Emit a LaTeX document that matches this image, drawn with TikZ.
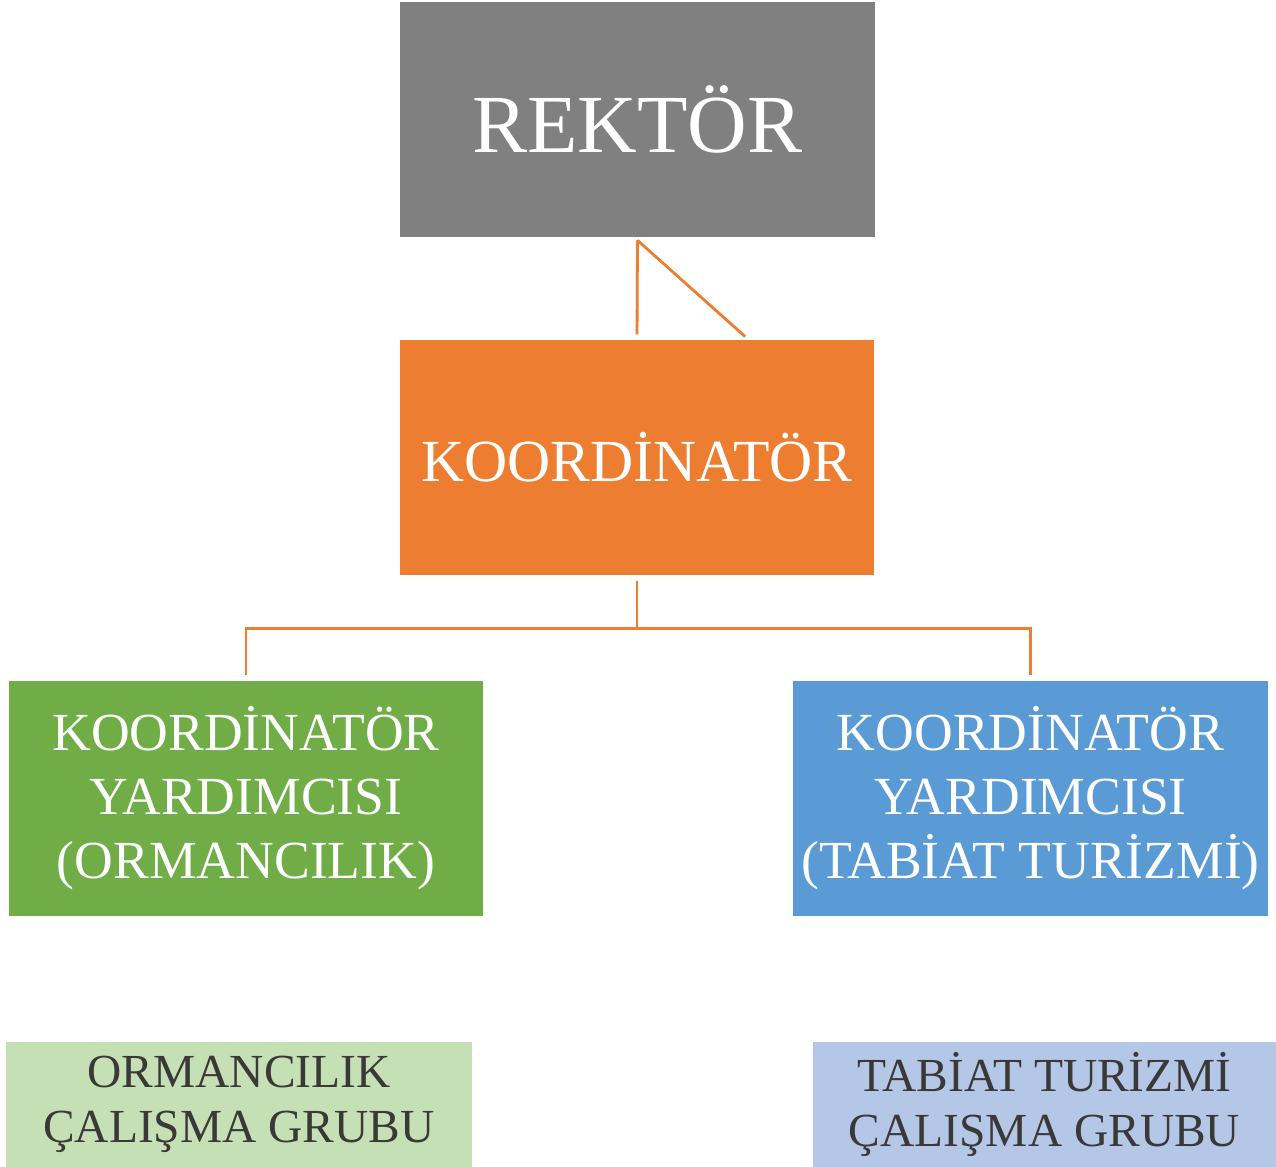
\documentclass[tikz,border=0pt]{standalone}
\usepackage{fontspec}
\setmainfont{Liberation Serif}
\usepackage{xcolor}
\usetikzlibrary{positioning,calc}

\definecolor{rektorgray}{HTML}{808080}
\definecolor{koordorange}{HTML}{ED7D31}
\definecolor{ormgreen}{HTML}{70AD47}
\definecolor{tabblue}{HTML}{5B9BD5}
\definecolor{ormlight}{HTML}{C5E0B4}
\definecolor{tablight}{HTML}{B4C7E7}
\definecolor{grptext}{HTML}{3B3838}

\tikzset{
    unitbox/.style={rectangle, align=center, inner sep=0pt, text=white},
    bigbox/.style={unitbox, minimum width=9.5cm, minimum height=4.7cm},
    grpbox/.style={rectangle, align=center, inner sep=0pt, text=grptext, minimum height=2.5cm,
        font=\fontsize{27}{31}\selectfont},
    link/.style={draw=koordorange, line width=1.6pt}
}

\begin{document}
\begin{tikzpicture}[x=0.02cm, y=-0.02cm]
    \useasboundingbox (0,0) rectangle (1276,1167);

    \node [bigbox, fill=rektorgray, font=\fontsize{47}{56}\selectfont] (rektor) at (637.5,119.5) {REKTÖR};
    \node [bigbox, fill=koordorange, minimum width=9.48cm, font=\fontsize{34}{40}\selectfont] (koord) at (637,457.5) {KOORDİNATÖR};
    \node [bigbox, fill=ormgreen, minimum width=9.48cm, font=\fontsize{30.5}{36.4}\selectfont] (yrdorm) at (246,798.5)
        {KOORDİNATÖR\\YARDIMCISI\\(ORMANCILIK)};
    \node [bigbox, fill=tabblue, font=\fontsize{30.5}{36.4}\selectfont] (yrdtab) at (1030.5,798.5)
        {KOORDİNATÖR\\YARDIMCISI\\(TABİAT TURİZMİ)};
    \node [grpbox, fill=ormlight, minimum width=9.32cm] (grporm) at (239,1104.5) {ORMANCILIK\\ÇALIŞMA GRUBU};
    \node [grpbox, fill=tablight, minimum width=9.26cm] (grptab) at (1044.5,1104.5) {TABİAT TURİZMİ\\ÇALIŞMA GRUBU};

    % rektor -> koordinator
    \coordinate (rektorfoot) at ($(rektor.south)+(0,3)$);
    \coordinate (koordtip) at ($(koord.north west)!0.728!(koord.north east)+(0,-3)$);
    \draw [link, shorten >=3pt] (rektorfoot) -- (koord.north);
    \draw [link] (rektorfoot) -- (koordtip);

    % koordinator -> yardimcilar
    \coordinate (split) at ($(koord.south)+(0,53)$);
    \draw [link, shorten <=3pt] (koord.south) -- (split);
    \draw [link, shorten >=3pt] (split) -| (yrdorm.north);
    \draw [link, shorten >=3pt] (split) -| (yrdtab.north);

\end{tikzpicture}
\end{document}
